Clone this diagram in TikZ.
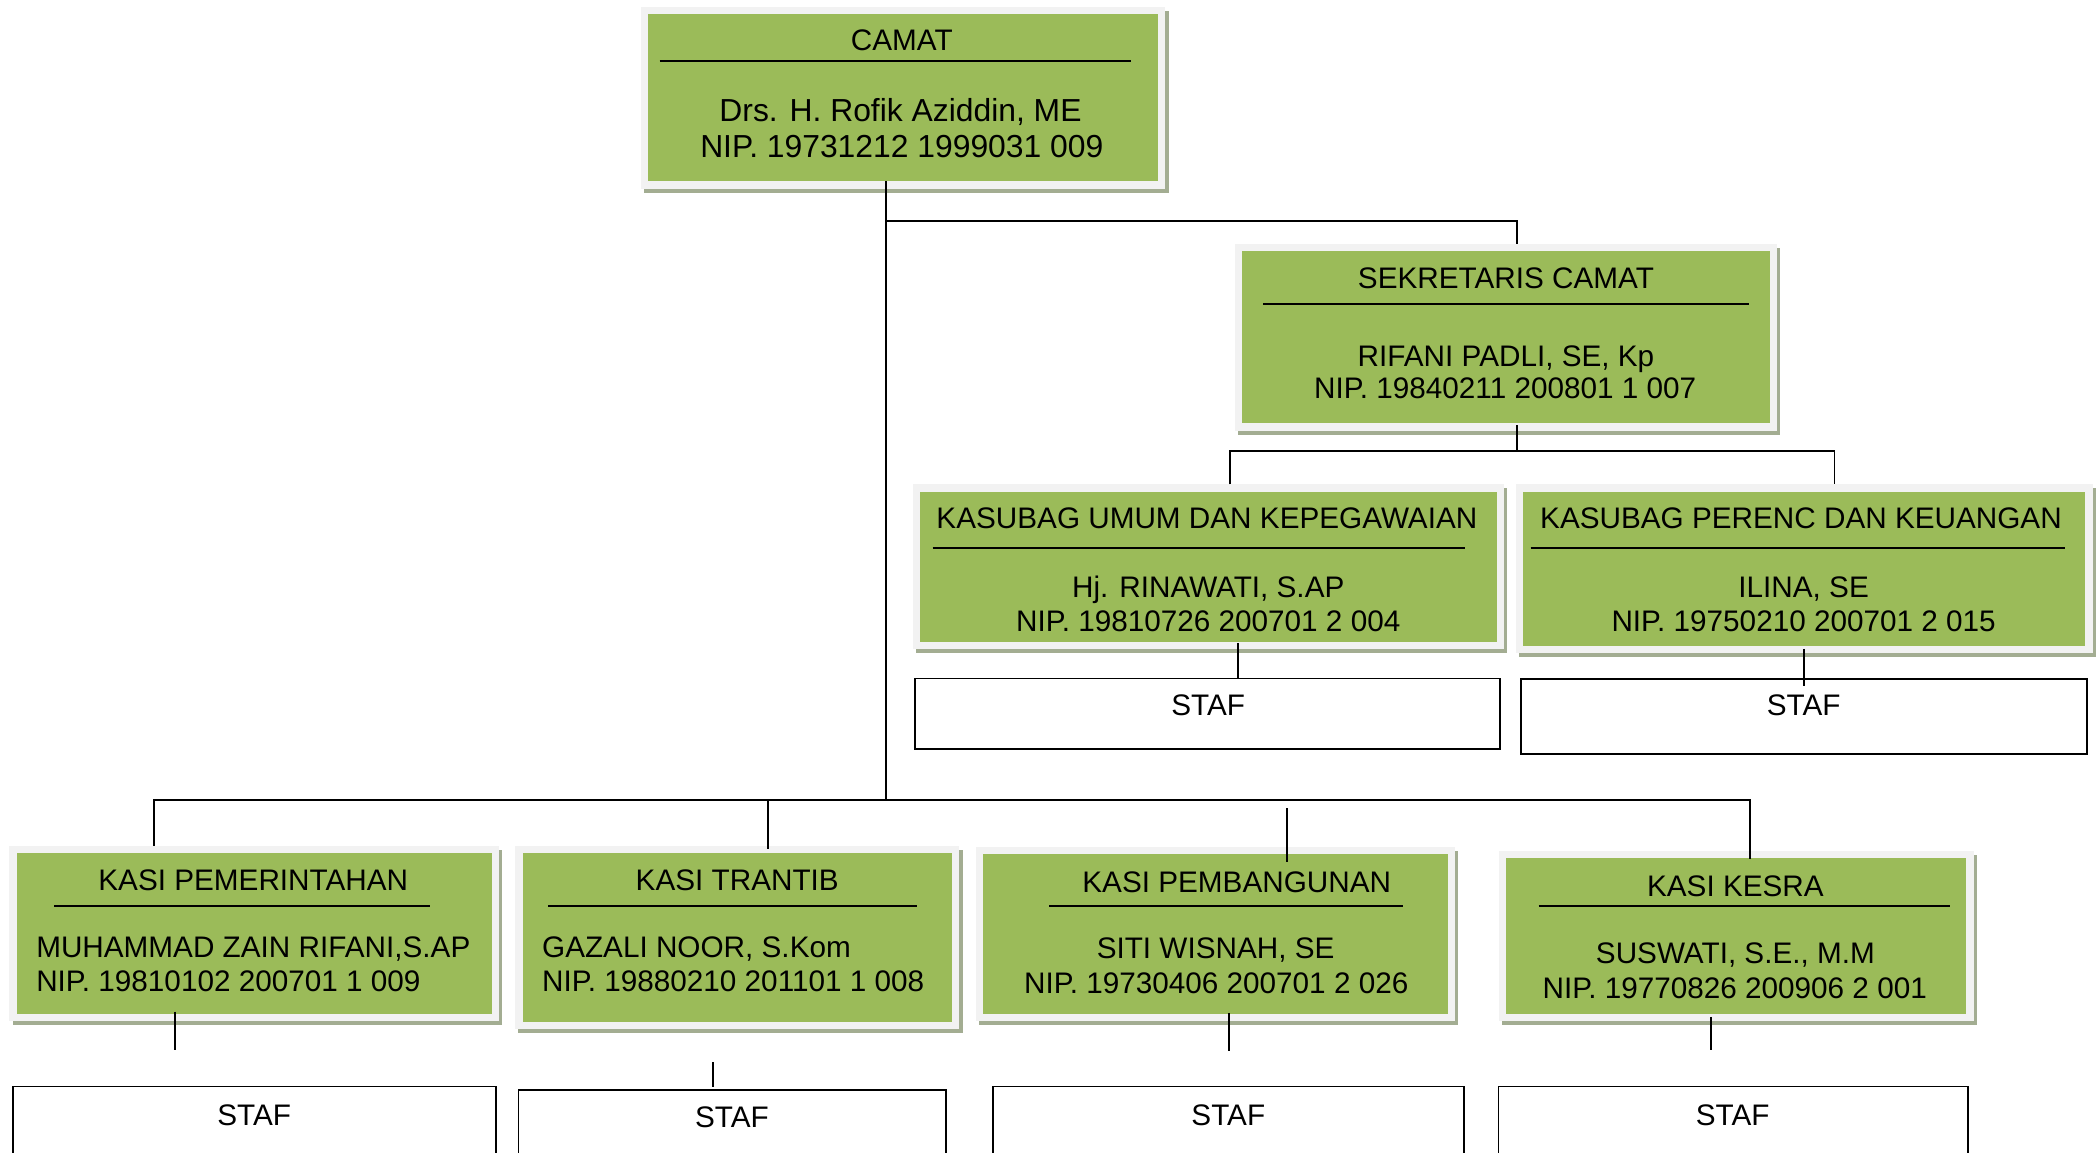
\documentclass[tikz,border=0pt]{standalone}
\usepackage{fontspec}
\setmainfont{Liberation Sans}
\usetikzlibrary{shadows,calc}
\definecolor{boxgreen}{HTML}{9BBB59}
\definecolor{framegrey}{HTML}{F2F2F2}
\definecolor{shadowcol}{HTML}{A3AD92}
\tikzset{
  orgbox/.style={rectangle, fill=framegrey, inner sep=0pt, outer sep=0pt,
    drop shadow={shadow xshift=2.5pt, shadow yshift=-3pt, fill=shadowcol, opacity=1},
    path picture={\fill[boxgreen] ([shift={(5.5pt,-5.5pt)}]path picture bounding box.north west) rectangle ([shift={(-5.5pt,5.5pt)}]path picture bounding box.south east);}},
  stafbox/.style={rectangle, draw=black, line width=1.3pt, fill=white, inner sep=0pt, outer sep=0pt},
  txt/.style={anchor=base, inner sep=0pt, font=\fontsize{22.2}{26}\selectfont},
  bigtxt/.style={txt, font=\fontsize{23.8}{28}\selectfont},
  ltxt/.style={txt, anchor=base west},
  sepline/.style={line width=1.5pt},
  conn/.style={line width=1.4pt},
}
\begin{document}
\begin{tikzpicture}[x=1pt,y=-1pt]
\useasboundingbox (0,0) rectangle (1568,861.7);
\fill[white] (0,0) rectangle (1568,861.7);
\clip (0,0) rectangle (1568,861.7);

% ---------- green boxes ----------
\node[orgbox, minimum width=392pt, minimum height=136pt] (camat) at (675,73) {};
\node[orgbox, minimum width=405pt, minimum height=140pt] (sek) at (1125.5,252) {};
\node[orgbox, minimum width=442pt, minimum height=123pt] (umum) at (903,423.5) {};
\node[orgbox, minimum width=431pt, minimum height=126pt] (per) at (1348.5,425) {};
\node[orgbox, minimum width=366pt, minimum height=131pt] (pem) at (190,697.5) {};
\node[orgbox, minimum width=332pt, minimum height=137pt] (tra) at (551,700.5) {};
\node[orgbox, minimum width=358pt, minimum height=130pt] (pemb) at (908.5,698) {};
\node[orgbox, minimum width=355pt, minimum height=127pt] (kes) at (1297.5,699.5) {};

% ---------- staff boxes ----------
\node[stafbox, minimum width=437pt, minimum height=53pt] (staf1) at (902.5,533.5) {};
\node[stafbox, minimum width=423pt, minimum height=56pt] (staf2) at (1348.5,535.5) {};
\node[stafbox, minimum width=361pt, minimum height=68pt] (staf3) at (190,846) {};
\node[stafbox, minimum width=319.5pt, minimum height=65.5pt] (staf4) at (547.25,847.25) {};
\node[stafbox, minimum width=352pt, minimum height=68pt] (staf5) at (918,846) {};
\node[stafbox, minimum width=351pt, minimum height=68pt] (staf6) at (1295.5,846) {};

% ---------- separator lines ----------
\draw[sepline] (493,45.3) -- (845,45.3);
\draw[sepline] (944,227.2) -- (1307,227.2);
\draw[sepline] (697,409.3) -- (1095,409.3);
\draw[sepline] (1144,409.3) -- (1543,409.3);
\draw[sepline] (40.6,677) -- (321.4,677);
\draw[sepline] (409.6,677) -- (685,677);
\draw[sepline] (784,677) -- (1048.3,677);
\draw[sepline] (1150,677) -- (1457,677);

% ---------- texts ----------
\node[txt] (camatT) at (674,37.8) {CAMAT};
\node[bigtxt] (camatN) at (673,90.6) {Drs. H. Rofik Aziddin, ME};
\node[bigtxt] (camatP) at (674,118) {NIP. 19731212 1999031 009};

\node[txt] (sekT) at (1125.5,215.3) {SEKRETARIS CAMAT};
\node[txt] (sekN) at (1125.5,273.8) {RIFANI PADLI, SE, Kp};
\node[txt] (sekP) at (1125,298) {NIP. 19840211 200801 1 007};

\node[txt] (umumT) at (902,395.2) {KASUBAG UMUM DAN KEPEGAWAIAN};
\node[txt] (umumN) at (903,446.8) {Hj. RINAWATI, S.AP};
\node[txt] (umumP) at (903,471.8) {NIP. 19810726 200701 2 004};

\node[txt] (perT) at (1346,395.2) {KASUBAG PERENC DAN KEUANGAN};
\node[txt] (perN) at (1348,446.8) {ILINA, SE};
\node[txt] (perP) at (1348,472.3) {NIP. 19750210 200701 2 015};

\node[txt] (pemT) at (189.3,665.5) {KASI PEMERINTAHAN};
\node[ltxt] (pemN) at (26.9,715.3) {MUHAMMAD ZAIN RIFANI,S.AP};
\node[ltxt] (pemP) at (26.9,740.8) {NIP. 19810102 200701 1 009};

\node[txt] (traT) at (551,665.5) {KASI TRANTIB};
\node[ltxt] (traN) at (405,715.8) {GAZALI NOOR, S.Kom};
\node[ltxt] (traP) at (405,740.8) {NIP. 19880210 201101 1 008};

\node[txt] (pembT) at (924.3,666.8) {KASI PEMBANGUNAN};
\node[txt] (pembN) at (908.5,716.3) {SITI WISNAH, SE};
\node[txt] (pembP) at (909,742.3) {NIP. 19730406 200701 2 026};

\node[txt] (kesT) at (1297,669.8) {KASI KESRA};
\node[txt] (kesN) at (1297,719.8) {SUSWATI, S.E., M.M};
\node[txt] (kesP) at (1296.5,746.3) {NIP. 19770826 200906 2 001};

\node[txt] (staf1T) at (903,534.8) {STAF};
\node[txt] (staf2T) at (1348,534.8) {STAF};
\node[txt] (staf3T) at (190,840.8) {STAF};
\node[txt] (staf4T) at (547,842.8) {STAF};
\node[txt] (staf5T) at (918,840.8) {STAF};
\node[txt] (staf6T) at (1295,840.8) {STAF};

% ---------- connectors ----------
\coordinate (jTop) at (662,165);
\coordinate (jMain) at (662,598);
\coordinate (xSek) at (1134,337);
\coordinate (jUmum) at (919,337);
\coordinate (jPer) at (1371,337);
\coordinate (xU) at (925,0);
\coordinate (hL) at (115,598);
\coordinate (hR) at (1308,598);
\coordinate (jT) at (574,598);
\coordinate (pbTop) at (962,604);
\coordinate (st1) at (130.8,785);
\coordinate (st2) at (532.6,794);
\coordinate (st3) at (918.8,785.3);
\coordinate (st4) at (1279,785);

\draw[conn] ($(camat.south -| jMain)+(0,-5.5)$) -- (jMain);
\draw[conn] (jTop) -| (sek.north -| xSek);
\draw[conn] ($(sek.south -| xSek)+(0,-4)$) -- (xSek);
\draw[conn] (umum.north -| jUmum) -- (jUmum) -- (jPer) -- (per.north -| jPer);
\draw[conn] ($(umum.south -| xU)+(0,-4.5)$) -- (staf1.north -| xU);
\draw[conn] ($(per.south)+(0,-3)$) -- ($(staf2.north)+(0,5)$);
\draw[conn] (pem.north -| hL) -- (hL) -- (hR) -- ($(kes.north -| hR)+(0,6)$);
\draw[conn] (jT) -- ($(tra.north -| jT)+(0,2.6)$);
\draw[conn] (pbTop) -- ($(pemb.north -| pbTop)+(0,11)$);
\draw[conn] ($(pem.south -| st1)+(0,-7)$) -- (st1);
\draw[conn] (st2) -- ($(staf4.north -| st2)+(0,-2)$);
\draw[conn] ($(pemb.south -| st3)+(0,-6)$) -- (st3);
\draw[conn] ($(kes.south -| st4)+(0,-3)$) -- (st4);
\end{tikzpicture}
\end{document}
